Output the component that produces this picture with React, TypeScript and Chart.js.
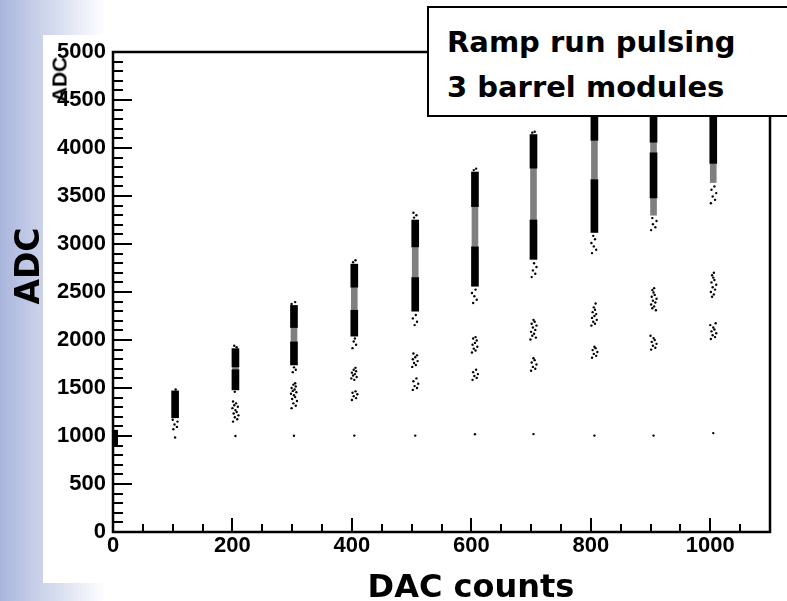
import React, { useEffect, useRef } from "react";
import { Chart, registerables } from "chart.js";

Chart.register(...registerables);

// Axis ranges and tick labels
const xRange = [0, 1100];
const yRange = [0, 5000];
const xTickValues = [0, 200, 400, 600, 800, 1000];
const yTickValues = [0, 500, 1000, 1500, 2000, 2500, 3000, 3500, 4000, 4500, 5000];
const xMinorStep = 50;
const yMinorStep = 100;

// Dense hit bands: [DAC position, ADC low, ADC high]
const denseBands: [number, number, number][] = [
  [2, 910, 1060],
  [104, 1190, 1470],
  [205, 1480, 1690],
  [205, 1720, 1910],
  [303, 1740, 1980],
  [303, 2130, 2360],
  [404, 2040, 2310],
  [404, 2550, 2790],
  [506, 2300, 2650],
  [506, 2970, 3250],
  [606, 2560, 2970],
  [606, 3390, 3750],
  [704, 2840, 3250],
  [704, 3790, 4140],
  [806, 3120, 3670],
  [806, 4080, 4340],
  [905, 3480, 3950],
  [905, 4060, 4340],
  [1005, 3840, 4340],
];

// Medium-density hits between the dense bands: [DAC position, ADC low, ADC high]
const mediumBands: [number, number, number][] = [
  [205, 1680, 1730],
  [303, 1970, 2140],
  [404, 2300, 2560],
  [506, 2640, 2980],
  [606, 2960, 3400],
  [704, 3240, 3800],
  [806, 3660, 4090],
  [905, 3300, 3490],
  [905, 3940, 4070],
  [1005, 3640, 3850],
];

// Isolated hits: [DAC, ADC]
const lowHits: [number, number][] = [
  [104, 985], [205, 1000], [303, 1002], [404, 1004], [506, 1004], [606, 1018], [704, 1020], [806, 1004], [905, 1004], [1005, 1030],
];
const sparsePoints: [number, number][] = [
  // DAC 100
  [101, 1070], [107, 1095], [103, 1120], [108, 1150], [100, 1170], [105, 1485],
  // DAC 200
  [201, 1150], [208, 1175], [204, 1195], [210, 1215], [202, 1235], [207, 1250], [205, 1270], [200, 1290], [209, 1305], [203, 1320], [206, 1340], [201, 1360],
  [204, 1460], [207, 1925], [203, 1940],
  // DAC 300
  [299, 1290], [306, 1315], [302, 1340], [308, 1365], [300, 1385], [305, 1405], [303, 1425], [298, 1440], [307, 1455], [301, 1470], [304, 1485], [299, 1500], [306, 1515], [302, 1535], [305, 1550],
  [301, 1665], [306, 1690], [303, 1715], [299, 2375], [305, 2395],
  // DAC 400
  [400, 1375], [407, 1395], [403, 1415], [409, 1435], [401, 1450], [406, 1465], [404, 1585], [399, 1600], [408, 1615], [402, 1630], [405, 1645], [400, 1660], [407, 1675], [403, 1690], [406, 1710],
  [401, 1915], [407, 1950], [403, 1985], [405, 2015], [402, 2810], [406, 2830],
  // DAC 500
  [502, 1480], [509, 1500], [505, 1520], [511, 1545], [503, 1570], [508, 1600], [501, 1720], [507, 1740], [504, 1760], [510, 1780], [502, 1800], [506, 1820], [509, 1840], [503, 1860],
  [505, 2155], [509, 2190], [502, 2225], [507, 2260], [504, 3275], [508, 3300], [503, 3325],
  // DAC 600
  [602, 1585], [609, 1605], [605, 1625], [611, 1645], [603, 1665], [608, 1690], [601, 1870], [607, 1890], [604, 1910], [610, 1930], [602, 1950], [606, 1970], [609, 1995], [603, 2015], [607, 2030],
  [603, 2385], [609, 2420], [605, 2455], [601, 2490], [607, 2525], [604, 3770], [608, 3785],
  // DAC 700
  [700, 1680], [707, 1700], [703, 1720], [709, 1745], [701, 1765], [706, 1790], [704, 1810], [699, 2005], [708, 2025], [702, 2045], [705, 2065], [700, 2085], [707, 2105], [703, 2130], [709, 2150], [701, 2170], [706, 2190], [704, 2210],
  [701, 2655], [707, 2690], [703, 2725], [709, 2760], [705, 2800], [702, 4160], [706, 4170],
  // DAC 800
  [802, 1815], [809, 1835], [805, 1855], [811, 1875], [803, 1895], [808, 1915], [806, 1930], [801, 2150], [807, 2170], [804, 2190], [810, 2210], [802, 2230], [806, 2250], [809, 2270], [803, 2290], [807, 2315], [805, 2340], [808, 2380],
  [802, 2905], [809, 2940], [805, 2975], [801, 3010], [807, 3050], [804, 3085],
  // DAC 900
  [901, 1900], [908, 1920], [904, 1940], [910, 1960], [902, 1980], [907, 2000], [905, 2020], [900, 2045],
  [909, 2310], [903, 2330], [906, 2350], [901, 2370], [908, 2390], [904, 2410], [910, 2430], [902, 2450], [907, 2470], [905, 2495], [903, 2520], [906, 2540],
  [901, 3145], [908, 3175], [904, 3205], [910, 3240], [903, 3270],
  // DAC 1000
  [1001, 2010], [1008, 2030], [1004, 2050], [1010, 2070], [1002, 2090], [1007, 2110], [1005, 2130], [1000, 2155], [1009, 2175],
  [1003, 2450], [1006, 2475], [1001, 2500], [1008, 2525], [1004, 2550], [1010, 2575], [1002, 2600], [1007, 2625], [1005, 2650], [1003, 2675], [1006, 2700],
  [1001, 3425], [1008, 3460], [1004, 3495], [1010, 3530], [1002, 3565], [1007, 3600],
];

const labelFont = '"Liberation Sans", Arial, sans-serif';
const titleFont = '"DejaVu Sans", "Comic Sans MS", sans-serif';

const framePlugin = {
  id: "rootFrame",
  afterDatasetsDraw(chart: any) {
    const { ctx, chartArea, scales } = chart;
    const { left, right, top, bottom } = chartArea;
    const x = scales.x;
    const y = scales.y;
    ctx.save();
    ctx.strokeStyle = "#000";
    ctx.lineWidth = 2;
    ctx.beginPath();
    for (let v = yRange[0]; v <= yRange[1]; v += yMinorStep) {
      const py = Math.round(y.getPixelForValue(v));
      const len = v % 500 === 0 ? 19 : 10;
      ctx.moveTo(left, py);
      ctx.lineTo(left + len, py);
    }
    for (let v = xRange[0]; v <= xRange[1]; v += xMinorStep) {
      const px = Math.round(x.getPixelForValue(v));
      const len = v % 200 === 0 ? 14 : 8;
      ctx.moveTo(px, bottom);
      ctx.lineTo(px, bottom - len);
    }
    ctx.stroke();
    ctx.lineWidth = 2.5;
    ctx.strokeRect(left, top, right - left, bottom - top);
    ctx.restore();
  },
};

export default function App() {
  const canvasRef = useRef<HTMLCanvasElement>(null);

  useEffect(() => {
    const canvas = canvasRef.current;
    if (!canvas) return;
    const chart = new Chart(canvas, {
      type: "bar",
      data: {
        datasets: [
          {
            type: "bar",
            data: denseBands.map(([x, lo, hi]) => ({ x, y: [lo, hi] })) as any,
            backgroundColor: "#000",
            borderWidth: 0,
            barThickness: 7,
            grouped: false,
            order: 0,
          } as any,
          {
            type: "scatter",
            data: [...lowHits, ...sparsePoints].map(([x, y]) => ({ x, y })),
            backgroundColor: "#000",
            borderWidth: 0,
            pointRadius: 1.2,
            order: 1,
          } as any,
          {
            type: "bar",
            data: mediumBands.map(([x, lo, hi]) => ({ x, y: [lo, hi] })) as any,
            backgroundColor: "rgba(0,0,0,0.5)",
            borderWidth: 0,
            barThickness: 6,
            grouped: false,
            order: 2,
          } as any,
        ],
      },
      options: {
        responsive: false,
        animation: false,
        devicePixelRatio: 1,
        layout: { padding: { top: 52, right: 17, left: 0, bottom: 0 } },
        plugins: { legend: { display: false }, tooltip: { enabled: false } },
        scales: {
          x: {
            type: "linear",
            min: xRange[0],
            max: xRange[1],
            offset: false,
            grid: { display: false, drawTicks: false },
            border: { display: false },
            afterBuildTicks: (s: any) => {
              s.ticks = xTickValues.map((v) => ({ value: v }));
            },
            afterFit: (s: any) => {
              s.height = 69;
            },
            ticks: {
              color: "#000",
              font: { family: labelFont, size: 22, weight: "bold" },
              padding: 1,
              maxRotation: 0,
              autoSkip: false,
              callback: (v: any) => String(v),
            },
          },
          y: {
            type: "linear",
            min: yRange[0],
            max: yRange[1],
            grid: { display: false, drawTicks: false },
            border: { display: false },
            afterBuildTicks: (s: any) => {
              s.ticks = yTickValues.map((v) => ({ value: v }));
            },
            afterFit: (s: any) => {
              s.width = 113;
            },
            ticks: {
              color: "#000",
              font: { family: labelFont, size: 22, weight: "bold" },
              padding: 7,
              autoSkip: false,
              callback: (v: any) => String(v),
            },
          },
        },
      } as any,
      plugins: [framePlugin],
    });
    return () => chart.destroy();
  }, []);

  return (
    <div
      style={{
        position: "absolute",
        left: 0,
        top: 0,
        width: 787,
        height: 601,
        overflow: "hidden",
        background: "linear-gradient(to right, #a9b5dc 0px, #ffffff 105px)",
      }}
    >
      <div style={{ position: "absolute", left: 43, top: 35, width: 744, height: 548, background: "#fff" }} />
      <canvas ref={canvasRef} width={787} height={601} style={{ position: "absolute", left: 0, top: 0 }} />
      {/* small axis title */}
      <div
        style={{
          position: "absolute",
          left: 59 - 50,
          top: 79 - 10.5,
          width: 100,
          height: 21,
          lineHeight: "21px",
          textAlign: "center",
          fontFamily: labelFont,
          fontWeight: "bold",
          fontSize: 21,
          color: "#000",
          transform: "rotate(-90deg)",
          whiteSpace: "nowrap",
        }}
      >
        ADC
      </div>
      {/* big y title */}
      <div
        style={{
          position: "absolute",
          left: 28 - 100,
          top: 266 - 17,
          width: 200,
          height: 34,
          lineHeight: "34px",
          textAlign: "center",
          fontFamily: titleFont,
          fontWeight: "bold",
          fontSize: 33,
          color: "#000",
          transform: "rotate(-90deg)",
          whiteSpace: "nowrap",
        }}
      >
        ADC
      </div>
      {/* x title */}
      <div
        style={{
          position: "absolute",
          left: 271,
          top: 570,
          width: 400,
          lineHeight: 1,
          textAlign: "center",
          fontFamily: titleFont,
          fontWeight: "bold",
          fontSize: 32,
          color: "#000",
          whiteSpace: "nowrap",
        }}
      >
        DAC counts
      </div>
      {/* annotation box */}
      <div
        style={{
          position: "absolute",
          left: 427,
          top: 6,
          width: 400,
          height: 107,
          background: "#fff",
          border: "2px solid #000",
        }}
      />
      <div
        style={{
          position: "absolute",
          left: 447,
          top: 27.5,
          lineHeight: 1,
          fontFamily: titleFont,
          fontWeight: "bold",
          fontSize: 29,
          color: "#000",
          whiteSpace: "nowrap",
        }}
      >
        Ramp run pulsing
      </div>
      <div
        style={{
          position: "absolute",
          left: 447,
          top: 72.5,
          lineHeight: 1,
          fontFamily: titleFont,
          fontWeight: "bold",
          fontSize: 29,
          color: "#000",
          whiteSpace: "nowrap",
        }}
      >
        3 barrel modules
      </div>
    </div>
  );
}
